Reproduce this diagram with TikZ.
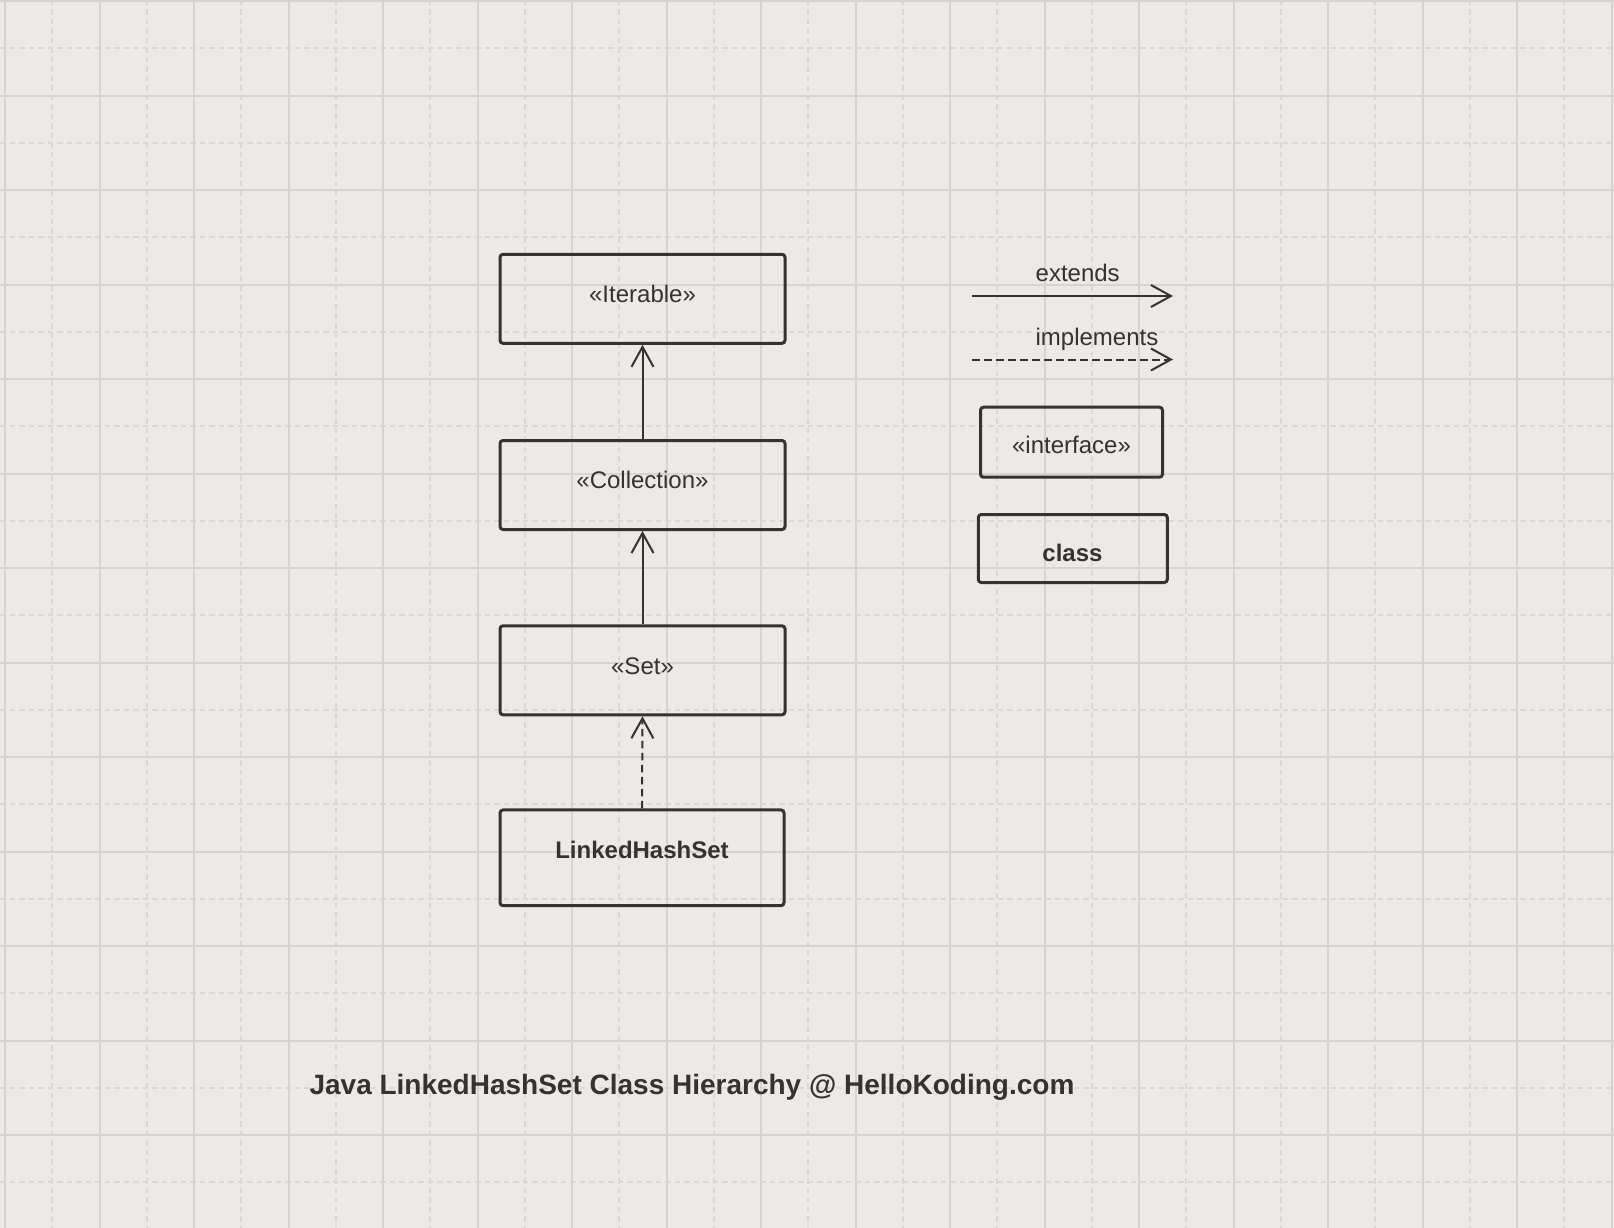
\documentclass[tikz,border=0pt]{standalone}
\usepackage{fontspec}
\setmainfont{Liberation Sans}
\usetikzlibrary{arrows.meta}
\definecolor{bg}{HTML}{ECE9E6}
\definecolor{gridsolid}{HTML}{D6D4D2}
\definecolor{griddash}{HTML}{DBD9D7}
\definecolor{ink}{HTML}{333333}
\begin{document}
\begin{tikzpicture}[x=1pt,y=-1pt,
  umlbox/.style={draw=ink, line width=3pt, rounded corners=3pt, inner sep=0pt},
  lbl/.style={text=ink, font=\fontsize{24}{28}\selectfont, inner sep=0pt, anchor=base},
  blbl/.style={text=ink, font=\fontsize{24}{28}\selectfont\bfseries, inner sep=0pt, anchor=base},
  ttl/.style={text=ink, font=\fontsize{28}{32}\selectfont\bfseries, inner sep=0pt, anchor=base},
  ext/.style={draw=ink, line width=2pt, -{Straight Barb[length=20pt,width=22pt]}},
  impl/.style={ext, dash pattern=on 7.5pt off 4.5pt},
  gsolid/.style={draw=gridsolid, line width=1.6pt},
  gdash/.style={draw=griddash, line width=1.6pt, dash pattern=on 5.5pt off 4pt},
]
% background
\fill[bg] (0,0) rectangle (1614,1228);
\useasboundingbox (0,0) rectangle (1614,1228);
% grid
\foreach \k in {0,...,16} {
  \pgfmathsetmacro{\xx}{round(52.25+94.5*\k)}
  \draw[gdash] (\xx,0) -- (\xx,1228);
}
\foreach \k in {0,...,12} {
  \pgfmathsetmacro{\yy}{round(48.25+94.5*\k)}
  \draw[gdash] (0,\yy) -- (1614,\yy);
}
\foreach \k in {0,...,17} {
  \pgfmathsetmacro{\xx}{round(5+94.5*\k)}
  \draw[gsolid] (\xx,0) -- (\xx,1228);
}
\foreach \k in {0,...,12} {
  \pgfmathsetmacro{\yy}{round(1+94.5*\k)}
  \draw[gsolid] (0,\yy) -- (1614,\yy);
}
% hierarchy boxes
\node[umlbox, minimum width=285pt, minimum height=89pt] (iter) at (642.5,298.8) {};
\node[umlbox, minimum width=285pt, minimum height=89pt] (coll) at (642.5,485) {};
\node[umlbox, minimum width=285pt, minimum height=89pt] (set) at (642.5,670.3) {};
\node[umlbox, minimum width=284pt, minimum height=95.7pt] (lhs) at (642,857.8) {};
\node[lbl] (iterT) at (642.5,302.3) {«Iterable»};
\node[lbl] (collT) at (642.5,488.6) {«Collection»};
\node[lbl] (setT) at (642.5,674.8) {«Set»};
\node[blbl] (lhsT) at (642,858.2) {LinkedHashSet};
% connectors
\draw[ext] (coll.north) -- (iter.south);
\draw[ext] (set.north) -- (coll.south);
\draw[impl] (lhs.north) -- (set.south);
% legend
\coordinate (extA) at (972,296);
\coordinate (extB) at (1173,296);
\coordinate (implA) at (972,359.5);
\coordinate (implB) at (1173,359.5);
\draw[ext] (extA) -- (extB);
\draw[impl] (implA) -- (implB);
\node[lbl] (extT) at (1077.7,281.7) {extends};
\node[lbl] (implT) at (1097,345.7) {implements};
\node[umlbox, minimum width=182pt, minimum height=70pt] (intf) at (1071.5,442.2) {};
\node[lbl] (intfT) at (1071.5,453.3) {«interface»};
\node[umlbox, minimum width=189pt, minimum height=68pt] (cls) at (1072.8,548.5) {};
\node[blbl] (clsT) at (1072.5,561.7) {class};
% title
\node[ttl] (title) at (692,1094) {Java LinkedHashSet Class Hierarchy @ HelloKoding.com};
\end{tikzpicture}
\end{document}
